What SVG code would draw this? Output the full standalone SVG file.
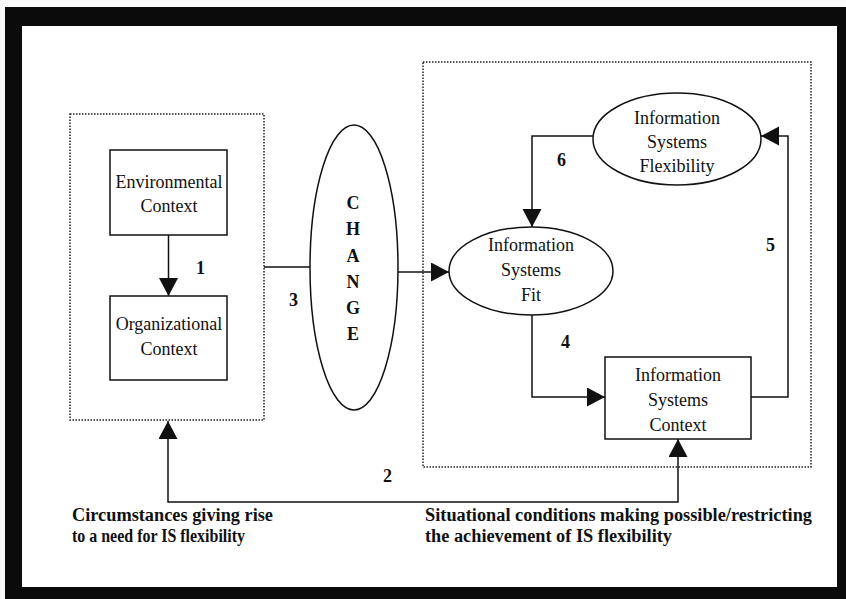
<svg xmlns="http://www.w3.org/2000/svg" width="846" height="599" viewBox="0 0 846 599">
  <style>
    .box { fill: #fff; stroke: #111; stroke-width: 1.5; }
    .dot { fill: none; stroke: #222; stroke-width: 1.5; stroke-dasharray: 1.5 1.5; }
    .node { font-family: "Liberation Serif", "Times New Roman", serif; font-size: 18px; fill: #111; text-anchor: middle; }
    .num { font-family: "Liberation Serif", "Times New Roman", serif; font-size: 18px; font-weight: bold; fill: #111; }
    .caption { font-family: "Liberation Serif", "Times New Roman", serif; font-size: 18px; font-weight: bold; fill: #111; }
    .change { font-family: "Liberation Serif", "Times New Roman", serif; font-size: 18px; font-weight: bold; fill: #111; text-anchor: middle; }
    .wire { fill: none; stroke: #111; stroke-width: 1.5; }
  </style>
  <defs>
    <marker id="head" markerUnits="userSpaceOnUse" markerWidth="19" markerHeight="20" refX="18" refY="9.5" orient="auto-start-reverse" viewBox="0 0 19 20">
      <path d="M0,0 L18,9.5 L0,19 z" fill="#111"/>
    </marker>
  </defs>

  <!-- frame -->
  <rect x="0" y="0" width="846" height="599" fill="#fafafa"/>
  <rect x="5" y="7" width="841" height="592" fill="#0b0b0b"/>
  <rect x="22" y="26" width="815" height="561" fill="#fff"/>

  <!-- grouping boxes -->
  <rect id="circumstances-group" class="dot" x="70" y="114" width="194" height="306"/>
  <rect id="conditions-group" class="dot" x="423" y="62" width="388" height="405"/>

  <g id="connectors">
    <path class="wire" d="M168.5,235 V296" marker-end="url(#head)"/>
    <path class="wire" d="M264,267 H310"/>
    <path class="wire" d="M398,272 H449" marker-end="url(#head)"/>
    <path class="wire" d="M593,136 H532 V227" marker-end="url(#head)"/>
    <path class="wire" d="M532,315 V397 H605" marker-end="url(#head)"/>
    <path class="wire" d="M751,397 H788 V136 H761" marker-end="url(#head)"/>
    <path class="wire" d="M168,421 V502 H678 V439" marker-start="url(#head)" marker-end="url(#head)"/>
  </g>

  <g id="environmental-context">
    <rect class="box" x="110" y="150" width="117" height="85"/>
    <text class="node" x="169" y="188">Environmental</text>
    <text class="node" x="169" y="212">Context</text>
  </g>

  <g id="organizational-context">
    <rect class="box" x="110" y="296" width="117" height="84"/>
    <text class="node" x="169" y="330">Organizational</text>
    <text class="node" x="169" y="355">Context</text>
  </g>

  <g id="change">
    <ellipse class="box" cx="354" cy="267.5" rx="44" ry="142.5"/>
    <text class="change" x="353" y="209">C</text>
    <text class="change" x="353" y="235">H</text>
    <text class="change" x="353" y="262">A</text>
    <text class="change" x="353" y="288">N</text>
    <text class="change" x="353" y="314">G</text>
    <text class="change" x="353" y="340">E</text>
  </g>

  <g id="is-flexibility">
    <ellipse class="box" cx="677" cy="139" rx="84" ry="46"/>
    <text class="node" x="677" y="124">Information</text>
    <text class="node" x="677" y="148">Systems</text>
    <text class="node" x="677" y="172">Flexibility</text>
  </g>

  <g id="is-fit">
    <ellipse class="box" cx="531" cy="271" rx="82" ry="44"/>
    <text class="node" x="531" y="251">Information</text>
    <text class="node" x="531" y="276">Systems</text>
    <text class="node" x="531" y="301">Fit</text>
  </g>

  <g id="is-context">
    <rect class="box" x="605" y="357" width="146" height="82"/>
    <text class="node" x="678" y="381">Information</text>
    <text class="node" x="678" y="406">Systems</text>
    <text class="node" x="678" y="431">Context</text>
  </g>

  <g id="labels">
    <text class="num" x="196" y="274">1</text>
    <text class="num" x="383" y="482">2</text>
    <text class="num" x="289" y="306">3</text>
    <text class="num" x="561" y="348">4</text>
    <text class="num" x="766" y="251">5</text>
    <text class="num" x="557" y="166">6</text>
  </g>

  <g id="captions">
    <text class="caption" x="72" y="521" textLength="201" lengthAdjust="spacingAndGlyphs">Circumstances giving rise</text>
    <text class="caption" x="72" y="542" textLength="173" lengthAdjust="spacingAndGlyphs">to a need for IS flexibility</text>
    <text class="caption" x="425" y="521" textLength="387" lengthAdjust="spacingAndGlyphs">Situational conditions making possible/restricting</text>
    <text class="caption" x="425" y="542" textLength="247" lengthAdjust="spacingAndGlyphs">the achievement of IS flexibility</text>
  </g>
</svg>
